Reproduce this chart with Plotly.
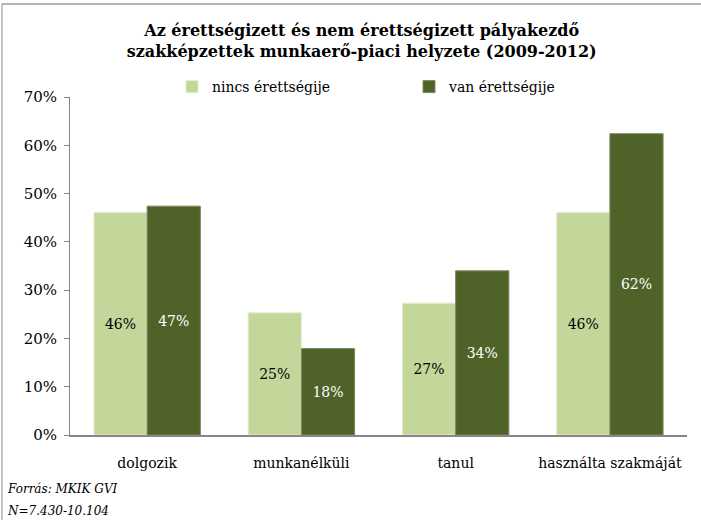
import plotly.graph_objects as go

categories = ["dolgozik", "munkanélküli", "tanul", "használta szakmáját"]
nincs = [46.1, 25.3, 27.3, 46.1]
van = [47.4, 17.9, 34.0, 62.4]
series_names = ["nincs érettségije", "van érettségije"]
y_ticks = [0, 10, 20, 30, 40, 50, 60, 70]

SERIF = "DejaVu Serif, Liberation Serif, serif"
LIGHT = "#C4D79B"
DARK = "#4F6228"

# plot area in pixels: x 70..687, y 97..435
PW, PH = 617, 338


def px_x(x):
    return (x - 70) / PW


def px_y(y):
    return (435 - y) / PH


fig = go.Figure()
fig.add_trace(go.Bar(
    x=categories, y=nincs, name=series_names[0],
    marker=dict(color=LIGHT, line=dict(color="#E4EDCF", width=1)),
    text=[f"{v:.0f}%" for v in nincs],
    textposition="inside", insidetextanchor="middle",
    textfont=dict(family=SERIF, size=14, color="black"),
))
fig.add_trace(go.Bar(
    x=categories, y=van, name=series_names[1],
    marker=dict(color=DARK, line=dict(color="#7A8A5C", width=1)),
    text=[f"{v:.0f}%" for v in van],
    textposition="inside", insidetextanchor="middle",
    textfont=dict(family=SERIF, size=14, color="white"),
))

fig.update_layout(
    width=701, height=520,
    margin=dict(l=70, r=14, t=97, b=85, autoexpand=False),
    paper_bgcolor="white", plot_bgcolor="white",
    font=dict(family=SERIF, size=14, color="black"),
    barmode="group", bargap=0.31, bargroupgap=0,
    title=dict(
        text="Az érettségizett és nem érettségizett pályakezdő<br>"
             "szakképzettek munkaerő-piaci helyzete (2009-2012)",
        x=0.516, xanchor="center", y=1 - 36 / 520, yanchor="middle",
        font=dict(family=SERIF, size=16, color="black", weight="bold"),
    ),
    legend=dict(
        orientation="h", x=px_x(172), xanchor="left",
        y=px_y(87), yanchor="middle",
        entrywidth=192, entrywidthmode="pixels",
        font=dict(family=SERIF, size=14), itemclick=False,
        bgcolor="rgba(0,0,0,0)",
    ),
    showlegend=True,
    xaxis=dict(
        showline=True, linecolor="#868686", linewidth=1.5,
        ticks="", tickfont=dict(family=SERIF, size=14),
        ticklabelstandoff=14,
    ),
    yaxis=dict(
        range=[0, 70], tickvals=y_ticks,
        ticktext=[f"{v}%" for v in y_ticks],
        showgrid=False, zeroline=False,
        showline=True, linecolor="#868686", linewidth=1,
        ticks="outside", ticklen=5, tickcolor="#868686",
        tickfont=dict(family=SERIF, size=15), ticklabelstandoff=4,
    ),
    annotations=[
        dict(text="<i>Forrás: MKIK GVI</i>", xref="paper", yref="paper",
             x=px_x(5), y=px_y(489), xanchor="left", yanchor="middle",
             showarrow=False, font=dict(family=SERIF, size=12)),
        dict(text="<i>N=7.430-10.104</i>", xref="paper", yref="paper",
             x=px_x(5), y=px_y(511), xanchor="left", yanchor="middle",
             showarrow=False, font=dict(family=SERIF, size=12)),
    ],
    shapes=[
        dict(type="line", xref="paper", yref="paper",
             x0=px_x(2), x1=px_x(701), y0=px_y(4), y1=px_y(4),
             line=dict(color="#B3B3B3", width=2)),
        dict(type="line", xref="paper", yref="paper",
             x0=px_x(2), x1=px_x(2), y0=px_y(4), y1=px_y(520),
             line=dict(color="#8C8C8C", width=1)),
    ],
)

# page body has a default 8px margin; drop it so the figure sits at 0,0
fig.write_html(
    "out.html",
    config={"displayModeBar": False},
    post_script="document.body.style.margin='0';"
                "document.body.style.overflow='hidden';",
)
